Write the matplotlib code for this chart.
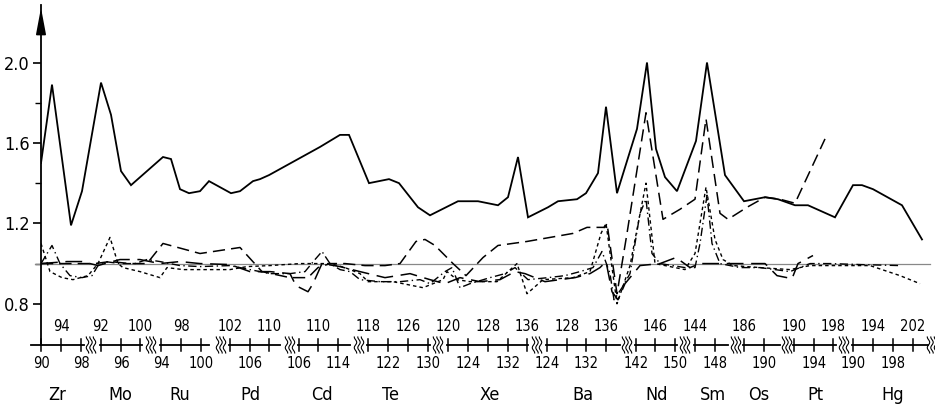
import numpy as np
import matplotlib.pyplot as plt

plt.rcParams['font.family'] = ['DejaVu Sans']
plt.rcParams['font.stretch'] = 'condensed'

# upper solid curve (x = position along the broken axis, y = ratio)
solid_x = [41, 52, 71, 82, 101, 111, 121, 131, 163, 171, 180, 189, 200, 209, 231, 240, 253, 260, 269,
           320, 340, 349, 369, 379, 389, 399, 418, 430, 458, 478, 498, 508, 518, 528, 548, 558, 577,
           586, 598, 606, 617, 637, 647, 656, 665, 677, 696, 707, 725, 744, 765, 778, 795, 808, 835,
           853, 862, 873, 902, 922]
solid_y = [1.50, 1.89, 1.19, 1.36, 1.90, 1.74, 1.46, 1.39, 1.53, 1.52, 1.37, 1.35, 1.36, 1.41, 1.35,
           1.36, 1.41, 1.42, 1.44, 1.58, 1.64, 1.64, 1.40, 1.41, 1.42, 1.40, 1.28, 1.24, 1.31, 1.31,
           1.29, 1.33, 1.53, 1.23, 1.28, 1.31, 1.32, 1.35, 1.45, 1.78, 1.35, 1.67, 2.00, 1.57, 1.43,
           1.36, 1.61, 2.00, 1.44, 1.31, 1.33, 1.32, 1.29, 1.29, 1.23, 1.39, 1.39, 1.37, 1.29, 1.12]

# long dashed curve
dash_x = [41, 62, 82, 95, 110, 130, 147, 163, 200, 240, 262, 290, 308, 318, 330, 345, 365, 385, 400,
          416, 425, 435, 453, 466, 483, 498, 527, 573, 587, 605, 607, 617, 627, 646, 663, 680, 695,
          706, 720, 728, 747, 765, 780, 795, 825]
dash_y = [1.00, 1.00, 1.00, 1.00, 1.01, 1.00, 1.00, 1.10, 1.05, 1.08, 0.96, 0.93, 0.93, 0.98, 1.00,
          1.00, 0.99, 0.99, 1.00, 1.11, 1.12, 1.09, 1.00, 0.94, 1.03, 1.09, 1.11, 1.15, 1.18, 1.18,
          1.20, 0.85, 1.15, 1.75, 1.22, 1.27, 1.32, 1.72, 1.25, 1.22, 1.28, 1.33, 1.32, 1.30, 1.62]

# short dashed curve
short_x = [41, 50, 62, 73, 88, 98, 110, 118, 123, 140, 160, 167, 183, 213, 230, 247, 270, 300, 330,
           345, 360, 368, 393, 423, 443, 447, 457, 470, 497, 517, 527, 543, 573, 590, 601, 606, 617,
           630, 646, 655, 665, 685, 695, 706, 715, 723, 733, 760, 790, 810, 850, 870, 900, 920]
short_y = [1.10, 0.96, 0.93, 0.92, 0.94, 1.00, 1.13, 1.00, 0.98, 0.96, 0.93, 0.98, 0.97, 0.97, 0.97,
           0.985, 0.99, 1.00, 1.00, 0.98, 0.95, 0.91, 0.91, 0.88, 0.92, 0.96, 0.92, 0.91, 0.91, 1.00,
           0.85, 0.92, 0.93, 0.96, 1.15, 1.20, 0.80, 0.99, 1.40, 1.00, 0.99, 0.97, 1.05, 1.38, 1.12,
           1.02, 0.99, 0.98, 0.97, 0.99, 0.99, 0.99, 0.94, 0.90]

# dash-dot curve
dd_x = [41, 52, 60, 70, 82, 92, 98, 105, 120, 135, 147, 160, 180, 200, 230, 250, 270, 290, 305, 315,
        322, 330, 340, 350, 360, 380, 400, 420, 430, 445, 452, 460, 470, 490, 505, 515, 528, 548, 565,
        580, 593, 602, 610, 614, 622, 630, 640, 646, 652, 660, 685, 695, 700, 707, 712, 720, 740, 760,
        790, 810, 830, 860, 900]
dd_y = [1.00, 1.09, 1.00, 0.94, 0.93, 0.94, 0.99, 1.01, 1.00, 1.00, 1.02, 1.01, 0.99, 0.985, 0.99,
        0.97, 0.95, 0.95, 0.96, 1.02, 1.06, 1.00, 0.97, 0.96, 0.92, 0.91, 0.91, 0.92, 0.90, 0.96, 0.98,
        0.88, 0.90, 0.93, 0.95, 0.98, 0.92, 0.93, 0.94, 0.96, 0.98, 1.06, 0.95, 0.82, 0.88, 0.95, 1.25,
        1.32, 1.05, 1.00, 0.98, 0.98, 1.10, 1.34, 1.10, 1.00, 0.98, 0.98, 0.96, 1.00, 1.00, 0.995, 0.99]

# long-segment curve close to 1.0
seg_x = [41, 67, 82, 98, 105, 120, 140, 160, 180, 200, 230, 250, 270, 290, 296, 308, 313, 322, 340,
         360, 385, 410, 430, 445, 460, 480, 500, 515, 525, 545, 575, 590, 600, 606, 612, 618, 625, 640,
         660, 676, 690, 700, 720, 740, 765, 777, 792, 798, 813]
seg_y = [1.00, 1.01, 1.01, 0.99, 1.00, 1.02, 1.02, 1.00, 1.01, 1.00, 0.995, 0.96, 0.96, 0.95, 0.89,
         0.86, 0.90, 1.00, 0.985, 0.96, 0.93, 0.95, 0.92, 0.90, 0.93, 0.91, 0.92, 0.96, 0.95, 0.91,
         0.93, 0.95, 0.98, 1.01, 0.86, 0.82, 0.90, 0.99, 1.00, 1.03, 0.98, 1.00, 1.00, 1.00, 1.00,
         0.94, 0.925, 1.00, 1.04]

# broken x axis: elements, mass numbers, where the first label sits
elements = ['Zr', 'Mo', 'Ru', 'Pd', 'Cd', 'Te', 'Xe', 'Ba', 'Nd', 'Sm', 'Os', 'Pt', 'Hg']
masses = [[90, 94, 98], [92, 96, 100], [94, 98, 100], [102, 106, 110], [106, 110, 114],
          [118, 122, 126, 130], [120, 124, 128, 132, 136], [124, 128, 132, 136],
          [142, 146, 150], [144, 148], [186, 190], [190, 194, 198], [190, 194, 198, 202]]
first_below = [True, False, True, False, True, False, False, True, True, False, False, False, True]

# layout of the axis segments (positions along the axis)
tick_pos = [[41, 61, 81], [101, 121, 140], [161, 181, 201], [230, 250, 269], [299, 318, 338],
            [368, 388, 408, 428], [448, 468, 488, 508, 527], [547, 567, 586, 606],
            [636, 655, 675], [695, 715], [744, 764], [794, 814, 833], [853, 873, 893, 913]]
seg_span = [(31, 84), (100, 142), (160, 209), (229, 280), (298, 350), (367, 430), (447, 528),
            (546, 620), (635, 677), (694, 728), (743, 780), (793, 836), (852, 928)]
name_pos = [57, 120, 180, 250, 322, 390, 490, 583, 657, 713, 759, 815, 893]
breaks = [91, 151, 221, 290, 359, 438, 537, 627, 685, 736, 787, 844, 932]

fig = plt.figure(figsize=(9.35, 4.13), dpi=100)
ax = fig.add_axes([41 / 935, 68 / 413, 894 / 935, 340 / 413])
ax.set_xlim(41, 935)
ax.set_ylim(0.595, 2.286)
py = (2.286 - 0.595) / 340  # one pixel in y units
y0 = 0.595

ax.axhline(1.0, xmin=-6 / 894, xmax=889 / 894, color='#888888', lw=0.9, clip_on=False)

ax.plot(solid_x, solid_y, color='k', lw=1.3, solid_joinstyle='miter')
ax.plot(dash_x, dash_y, color='k', lw=1.1, dashes=(8, 4))
ax.plot(short_x, short_y, color='k', lw=1.0, dashes=(2.5, 2.2))
ax.plot(dd_x, dd_y, color='k', lw=1.0, dashes=(6, 2.5, 1, 2.5))
ax.plot(seg_x, seg_y, color='k', lw=1.1, dashes=(11, 5))

# y axis
for s in ['top', 'right', 'bottom']:
    ax.spines[s].set_visible(False)
ax.spines['left'].set_linewidth(1.3)
ax.set_yticks([0.8, 1.2, 1.6, 2.0])
ax.set_yticklabels(['0.8', '1.2', '1.6', '2.0'], fontsize=13)
ax.set_yticks([1.0, 1.4, 1.8], minor=True)
ax.tick_params(axis='y', which='major', direction='out', length=6, width=1.2, pad=2)
ax.tick_params(axis='y', which='minor', direction='out', length=4, width=1.0)
ax.set_xticks([])
ax.annotate('', xy=(0, 1), xycoords='axes fraction', xytext=(0, 0.93),
            arrowprops=dict(arrowstyle='-|>,head_length=0.8,head_width=0.15', color='k', lw=1.2,
                            mutation_scale=20))

# broken x axis
for i, el in enumerate(elements):
    a, b = seg_span[i]
    ax.plot([a, b], [y0, y0], color='k', lw=1.3, clip_on=False)
    below = first_below[i]
    for xp, m in zip(tick_pos[i], masses[i]):
        ax.plot([xp, xp], [y0 - 6 * py, y0 + 6 * py], color='k', lw=1.1, clip_on=False)
        if below:
            ax.text(xp, y0 - 11 * py, str(m), ha='center', va='top', fontsize=10.5, clip_on=False)
        else:
            ax.text(xp, y0 + 11 * py, str(m), ha='center', va='bottom', fontsize=10.5, clip_on=False)
        below = not below
    ax.text(name_pos[i], y0 - 41 * py, el, ha='center', va='top', fontsize=13, clip_on=False)

t = np.linspace(-8, 8, 40)
for bx in breaks:
    for k in (-3.5, 0, 3.5):
        ax.plot(bx + k + 1.2 * np.sin(t / 8 * np.pi * 1.5), y0 + t * py, color='k', lw=0.8,
                clip_on=False)

fig.savefig('out.png', dpi=100)
